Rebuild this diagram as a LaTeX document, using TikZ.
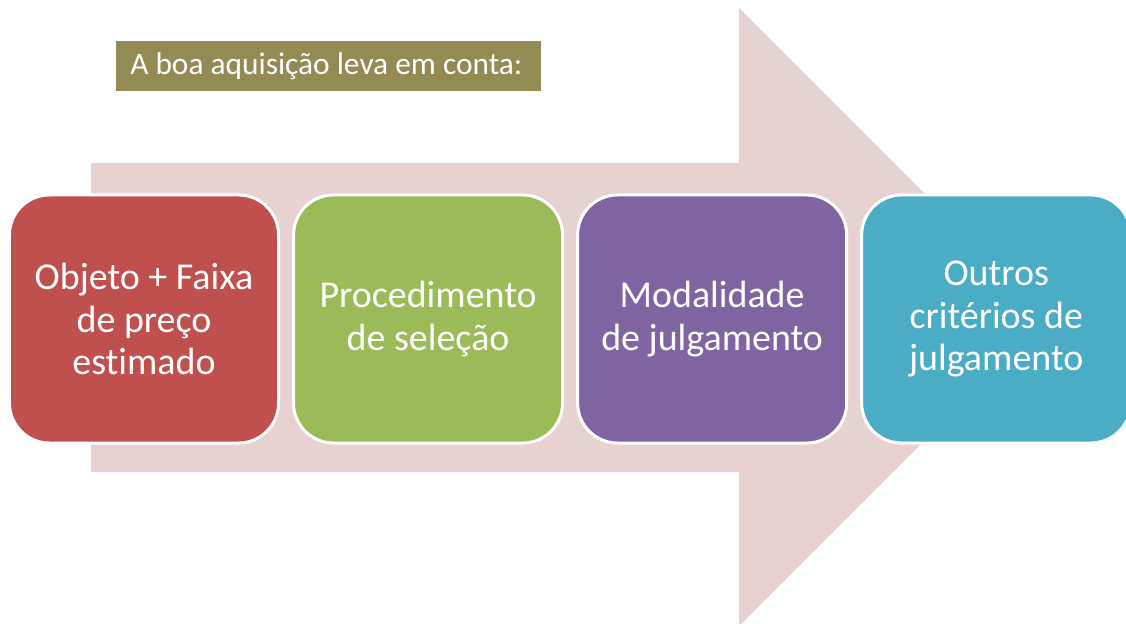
\documentclass[tikz,border=0pt]{standalone}
\usepackage{fontspec}
\setmainfont{Carlito}[Ligatures=NoCommon]
\usepackage{xcolor}
\usepackage{tikz}
\usetikzlibrary{positioning}

\definecolor{arrowpink}{HTML}{E7D1D1}
\definecolor{titleolive}{HTML}{948A54}
\definecolor{objred}{HTML}{C0504D}
\definecolor{procgreen}{HTML}{9BBB59}
\definecolor{modpurple}{HTML}{8064A2}
\definecolor{critcyan}{HTML}{4BACC6}

\begin{document}
\begin{tikzpicture}[x=0.025cm,y=-0.025cm,
      stage box/.style={rectangle,rounded corners=1cm,draw=white,line width=0.075cm,
        minimum width=6.725cm,minimum height=6.2cm,text width=6.4cm,align=flush center,
        text=white,font=\fontsize{27}{30.5}\selectfont}
      ]
      \useasboundingbox (0,0) rectangle (1126,624);
      % big arrow behind the stages
      \fill[arrowpink] (91,163) -- (739,163) -- (739,8) -- (1048,317)
      -- (739,626) -- (739,472) -- (91,472) -- cycle;
      \node[fill=titleolive,text=white,anchor=west,inner xsep=0.35cm,
        text width=9.925cm,align=flush left,minimum height=1.25cm,
        font=\fontsize{22.3}{24}\selectfont] (title) at (116,66)
      {A boa aquisição leva em conta:};
      \node[stage box,fill=objred] (obj) at (144,319)
      {Objeto + Faixa\\de preço\\estimado};
      \node[stage box,fill=procgreen,right=0.3cm of obj] (proc)
      {Procedimento\\de seleção};
      \node[stage box,fill=modpurple,right=0.3cm of proc] (mod)
      {Modalidade\\de julgamento};
      \node[stage box,fill=critcyan,right=0.3cm of mod] (crit)
      {Outros\\critérios de\\julgamento};
    \end{tikzpicture}
\end{document}
